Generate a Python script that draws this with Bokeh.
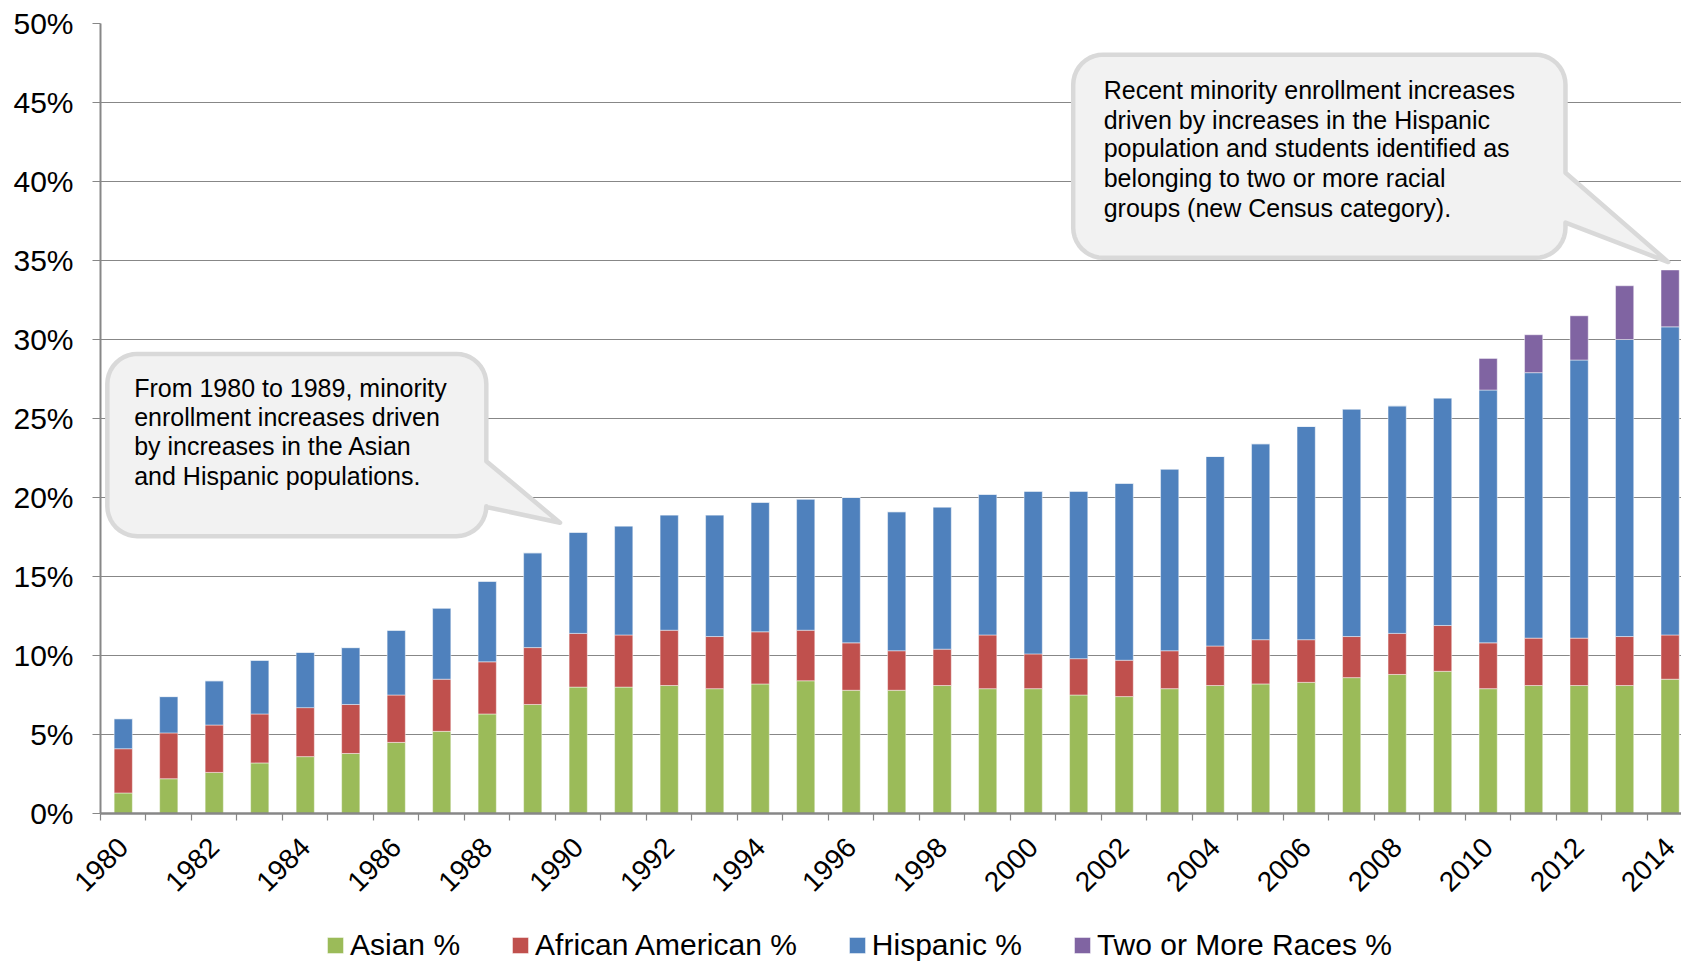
import math

from bokeh.core.properties import value
from bokeh.embed import file_html
from bokeh.layouts import column
from bokeh.models import (ColumnDataSource, FixedTicker, Legend, LegendItem,
                          PrintfTickFormatter, Range1d)
from bokeh.plotting import figure
from bokeh.resources import INLINE

# Minority share of enrollment, percent of total, by year
years = [1980, 1981, 1982, 1983, 1984, 1985, 1986, 1987, 1988, 1989,
         1990, 1991, 1992, 1993, 1994, 1995, 1996, 1997, 1998, 1999,
         2000, 2001, 2002, 2003, 2004, 2005, 2006, 2007, 2008, 2009,
         2010, 2011, 2012, 2013, 2014]
asian = [1.3, 2.2, 2.6, 3.2, 3.6, 3.8, 4.5, 5.2, 6.3, 6.9,
         8.0, 8.0, 8.1, 7.9, 8.2, 8.4, 7.8, 7.8, 8.1, 7.9,
         7.9, 7.5, 7.4, 7.9, 8.1, 8.2, 8.3, 8.6, 8.8, 9.0,
         7.9, 8.1, 8.1, 8.1, 8.5]
african_american = [2.8, 2.9, 3.0, 3.1, 3.1, 3.1, 3.0, 3.3, 3.3, 3.6,
                    3.4, 3.3, 3.5, 3.3, 3.3, 3.2, 3.0, 2.5, 2.3, 3.4,
                    2.2, 2.3, 2.3, 2.4, 2.5, 2.8, 2.7, 2.6, 2.6, 2.9,
                    2.9, 3.0, 3.0, 3.1, 2.8]
hispanic = [1.9, 2.3, 2.8, 3.4, 3.5, 3.6, 4.1, 4.5, 5.1, 6.0,
            6.4, 6.9, 7.3, 7.7, 8.2, 8.3, 9.2, 8.8, 9.0, 8.9,
            10.3, 10.6, 11.2, 11.5, 12.0, 12.4, 13.5, 14.4, 14.4, 14.4,
            16.0, 16.8, 17.6, 18.8, 19.5]
two_or_more = [0, 0, 0, 0, 0, 0, 0, 0, 0, 0,
               0, 0, 0, 0, 0, 0, 0, 0, 0, 0,
               0, 0, 0, 0, 0, 0, 0, 0, 0, 0,
               2.0, 2.4, 2.8, 3.4, 3.6]

series_names = ["Asian %", "African American %", "Hispanic %", "Two or More Races %"]
series_colors = ["#9BBB59", "#C0504D", "#4F81BD", "#8064A2"]

tick_years = [1980, 1982, 1984, 1986, 1988, 1990, 1992, 1994, 1996,
              1998, 2000, 2002, 2004, 2006, 2008, 2010, 2012, 2014]
y_ticks = [0, 5, 10, 15, 20, 25, 30, 35, 40, 45, 50]

callout_left = ["From 1980 to 1989, minority",
                "enrollment increases driven",
                "by increases in the Asian",
                "and Hispanic populations."]
callout_right = ["Recent minority enrollment increases",
                 "driven by increases in the Hispanic",
                 "population and students identified as",
                 "belonging to two or more racial",
                 "groups (new Census category)."]

FONT = "Liberation Sans"
GRID = "#878787"

W = 1681
H_CHART, H_KEY = 916, 45
BL, BR, BT, BB = 100, 0, 23, 103
X0, X1 = -0.5, 34.25
Y0, Y1 = 0, 50

p = figure(width=W, height=H_CHART, x_range=Range1d(X0, X1), y_range=Range1d(Y0, Y1),
           output_backend="svg", toolbar_location=None,
           min_border_left=BL, min_border_right=BR,
           min_border_top=BT, min_border_bottom=BB)
p.outline_line_color = None
p.background_fill_color = "white"
p.border_fill_color = "white"

# pixels per data unit, used to keep callout corners round
frame_w, frame_h = W - BL - BR, H_CHART - BT - BB
sx = frame_w / (X1 - X0)
sy = frame_h / (Y1 - Y0)

idx = list(range(len(years)))
src = ColumnDataSource(dict(x=idx, asian=asian, african_american=african_american,
                            hispanic=hispanic, two_or_more=two_or_more))
stackers = ["asian", "african_american", "hispanic", "two_or_more"]
bar_style = dict(x="x", width=0.4, color=series_colors, source=src,
                 line_color="white", line_alpha=0.45, line_width=1)
p.vbar_stack(stackers, **bar_style)

# grid
p.xgrid.visible = False
p.ygrid.ticker = FixedTicker(ticks=y_ticks)
p.ygrid.grid_line_color = GRID
p.ygrid.grid_line_width = 1.2

# y axis
ya = p.yaxis[0]
ya.ticker = FixedTicker(ticks=y_ticks)
ya.formatter = PrintfTickFormatter(format="%d%%")
ya.axis_line_color = GRID
ya.axis_line_width = 2
ya.major_tick_line_color = GRID
ya.major_tick_line_width = 1.2
ya.major_tick_out = 8
ya.major_tick_in = 0
ya.minor_tick_line_color = None
ya.major_label_text_font = FONT
ya.major_label_text_font_size = "30px"
ya.major_label_text_color = "black"
ya.major_label_standoff = 19

# x axis: labels under every other bar, tick marks between bars
xa = p.xaxis[0]
label_pos = [years.index(y) for y in tick_years]
xa.ticker = FixedTicker(ticks=label_pos, minor_ticks=[i - 0.5 for i in idx] + [idx[-1] + 0.5])
xa.major_label_overrides = {i: str(years[i]) for i in label_pos}
xa.axis_line_color = GRID
xa.axis_line_width = 2.5
xa.major_tick_line_color = None
xa.major_tick_out = 0
xa.major_tick_in = 0
xa.minor_tick_line_color = GRID
xa.minor_tick_line_width = 1.2
xa.minor_tick_out = 7
xa.minor_tick_in = 0
xa.major_label_orientation = math.pi / 4
xa.major_label_text_font = FONT
xa.major_label_text_font_size = "28px"
xa.major_label_text_color = "black"
xa.major_label_standoff = 22


def callout(x0, x1, y0, y1, ya_, yb_, tip, r=30, n=10):
    """Rounded box with a pointer leaving its right edge between ya_ and yb_."""
    rx, ry = r / sx, r / sy
    xs, ys = [], []

    def arc(cx, cy, a0, a1):
        for k in range(n + 1):
            t = math.radians(a0 + (a1 - a0) * k / n)
            xs.append(cx + rx * math.cos(t))
            ys.append(cy + ry * math.sin(t))

    arc(x1 - rx, y1 - ry, 90, 0)
    xs += [x1, tip[0], x1]
    ys += [ya_, tip[1], yb_]
    arc(x1 - rx, y0 + ry, 0, -90)
    arc(x0 + rx, y0 + ry, -90, -180)
    arc(x0 + rx, y1 - ry, 180, 90)
    p.patch(xs, ys, fill_color="#F2F2F2", line_color="#D9D9D9", line_width=4.5,
            line_join="round")


callout(-0.35, 7.98, 17.55, 29.09, 22.3, 19.4, (9.6, 18.4))
callout(20.88, 31.7, 35.17, 48.03, 40.55, 37.4, (33.96, 34.9))

p.text(x=[0.24] * len(callout_left), y=[26.96, 25.1, 23.25, 21.39], text=callout_left,
       text_font=value(FONT), text_font_size="25px", text_color="black",
       text_baseline="middle", text_align="left")
p.text(x=[21.55] * len(callout_right), y=[45.76, 43.92, 42.09, 40.19, 38.35],
       text=callout_right, text_font=value(FONT), text_font_size="25px",
       text_color="black", text_baseline="middle", text_align="left")

# key strip under the chart; its frame lines up with the chart frame,
# and its x range looks away from the bars so only the legend shows
key = figure(width=W, height=H_KEY, x_range=Range1d(-100, -99), y_range=Range1d(0, 1),
             output_backend="svg", toolbar_location=None,
             x_axis_type=None, y_axis_type=None,
             min_border_left=0, min_border_right=0, min_border_top=0, min_border_bottom=0)
key.outline_line_color = None
key.grid.visible = False
key_bars = key.vbar_stack(stackers, **bar_style)
legend = Legend(items=[LegendItem(label=n, renderers=[r]) for n, r in zip(series_names, key_bars)],
                orientation="horizontal", location=(225, -1),
                glyph_width=20, glyph_height=20, label_standoff=5, spacing=50,
                padding=0, margin=0, border_line_color=None, background_fill_alpha=0,
                label_text_font=FONT, label_text_font_size="30px",
                label_text_color="black")
key.add_layout(legend)

layout = column(p, key, spacing=0)
open("out.html", "w").write(file_html(layout, INLINE))
